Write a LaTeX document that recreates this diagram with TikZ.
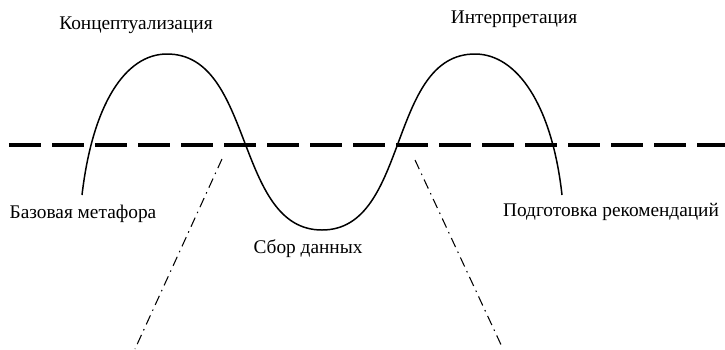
\documentclass[tikz,border=0pt]{standalone}
\usepackage{fontspec}
\setmainfont{Liberation Serif}
\usepackage{tikz}

\begin{document}
\begin{tikzpicture}[label/.style={inner sep=0pt,font=\fontsize{11}{13}\selectfont},
  axisline/.style={line width=0.6pt,dash pattern=on 0.2cm off 0.1cm on 0.03cm off 0.1cm}]

\useasboundingbox (0,0) rectangle (14.5,-6.98);

%Level line
\draw [line width=2.3pt,dash pattern=on 0.63cm off 0.23cm] (0.18,-2.9)--(14.5,-2.9);

%Wave
\coordinate (w0) at (1.64,-3.90); \coordinate (w1) at (3.34,-1.08); \coordinate (w2) at (6.44,-4.60);
\coordinate (w3) at (9.50,-1.08); \coordinate (w4) at (11.24,-3.90);
\draw [line width=0.85pt] (w0) .. controls (1.85,-2.1) and (2.50,-1.08) .. (w1)
  .. controls (5.09,-1.08) and (4.69,-4.60) .. (w2)
  .. controls (8.19,-4.60) and (7.75,-1.08) .. (w3)
  .. controls (10.34,-1.08) and (11.04,-2.1) .. (w4);

%Dash-dot lines
\coordinate (l1) at (4.44,-3.18); \coordinate (l2) at (2.70,-6.98);
\coordinate (r1) at (8.30,-3.20); \coordinate (r2) at (10.06,-6.98);
\draw [axisline] (l1)--(l2); \draw [axisline] (r1)--(r2);

\node[label] (konc) at (2.72,-0.50) {Концептуализация};
\node[label] (inter) at (10.28,-0.38) {Интерпретация};
\node[label] (baza) at (1.66,-4.28) {Базовая метафора};
\node[label] (sbor) at (6.16,-4.98) {Сбор данных};
\node[label] (podg) at (12.22,-4.24) {Подготовка рекомендаций};

\end{tikzpicture}
\end{document}
